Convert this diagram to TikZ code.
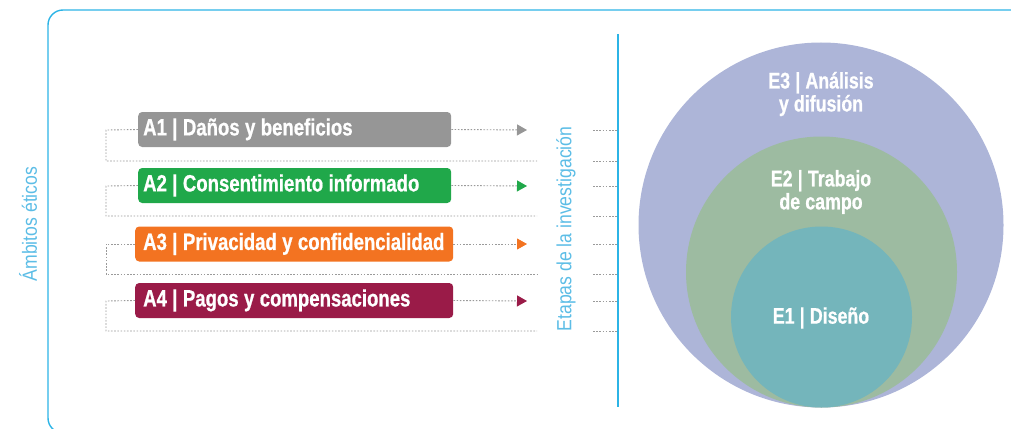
\documentclass[tikz,border=0pt]{standalone}
\usepackage{fontspec}
\setmainfont{Liberation Sans}
\newfontfamily\cond[FakeStretch=0.79, BoldFeatures={FakeBold=0.8}]{Liberation Sans}
\newfontfamily\condlight[FakeStretch=0.86]{Liberation Sans}
\usetikzlibrary{arrows.meta}
\definecolor{frameblue}{HTML}{2CB4E6}
\definecolor{lblue}{HTML}{5CBDE6}
\definecolor{cA1}{HTML}{969696}
\definecolor{cA2}{HTML}{20A84A}
\definecolor{cA3}{HTML}{F37321}
\definecolor{cA4}{HTML}{9A1B48}
\definecolor{cE3}{HTML}{ADB5D8}
\definecolor{cE2}{HTML}{9DBBA1}
\definecolor{cE1}{HTML}{74B5BB}
\definecolor{dotgray}{HTML}{9A9A9A}
\newcommand\tightsp{\spaceskip=0.23em plus 0.05em minus 0.02em\relax\hyphenpenalty=10000\relax}
\tikzset{
  framestyle/.style={draw=frameblue, line width=1.4pt},
  abox/.style={rounded corners=4pt, anchor=west, minimum height=35pt, align=left, text=white, font=\cond\bfseries\fontsize{23.5}{25}\selectfont, execute at begin node=\tightsp},
  dotline/.style={draw=dotgray, line width=0.9pt, dash pattern=on 1.6pt off 1.6pt},
  sidelabel/.style={rotate=90, text=lblue, font=\condlight\fontsize{20.5}{23}\selectfont},
  ctext/.style={text=white, align=center, font=\cond\bfseries\fontsize{22.5}{23}\selectfont, execute at begin node=\tightsp},
}
\begin{document}
\begin{tikzpicture}[x=1pt, y=-1pt]
\useasboundingbox (0,0) rectangle (1011,428);
% frame
\draw[framestyle, rounded corners=15pt] (1040,10) -- (48,10) -- (48,433) -- (120,433);
\draw[draw=frameblue, line width=1.4pt] (618,34) -- (618,407);
% side labels
\node[sidelabel] (amb) at (28,224) {Ámbitos éticos};
\node[sidelabel] (eta) at (566,229) {Etapas de la investigación};
% circles
\fill[cE3] (821,225) circle (182.5);
\fill[cE2] (821.5,272) circle (135.5);
\fill[cE1] (821.5,317) circle (90.5);
\node[ctext] (E3) at (821,94) {E3 | Análisis\\y difusión};
\node[ctext] (E2) at (821,192) {E2 | Trabajo\\de campo};
\node[ctext] (E1) at (821,318) {E1 | Diseño};
% boxes
\node[abox, fill=cA1, text width=303pt, inner xsep=5pt] (A1) at (138,129.5) {A1 | Daños y beneficios};
\node[abox, fill=cA2, text width=303pt, inner xsep=5pt] (A2) at (138,185.5) {A2 | Consentimiento informado};
\node[abox, fill=cA3, text width=302pt, inner xsep=8pt] (A3) at (135,244) {A3 | Privacidad y confidencialidad};
\node[abox, fill=cA4, text width=302pt, inner xsep=8pt] (A4) at (135,300.5) {A4 | Pagos y compensaciones};
% coordinates
\foreach \n/\m/\l in {1/130/161, 2/186/216, 3/244/274, 4/301/331}{
  \coordinate (L\n a) at (106,\m);
  \coordinate (L\n b) at (106,\l);
  \coordinate (L\n c) at (537,\l);
  \coordinate (T\n) at (527,\m);
  \coordinate (R\n a) at (593,\m);
  \coordinate (R\n b) at (618,\m);
  \coordinate (R\n c) at (593,\l);
  \coordinate (R\n d) at (618,\l);
}
\foreach \n in {1,2,3,4}{
  \draw[dotline] (A\n.west) -- (L\n a) -- (L\n b) -- (L\n c);
  \draw[dotline] (R\n a) -- (R\n b);
  \draw[dotline] (R\n c) -- (R\n d);
  \draw[dotline, -{Triangle[length=10pt, width=11pt, fill=cA\n, color=cA\n]}] (A\n.east) -- (T\n);
}
\end{tikzpicture}
\end{document}
